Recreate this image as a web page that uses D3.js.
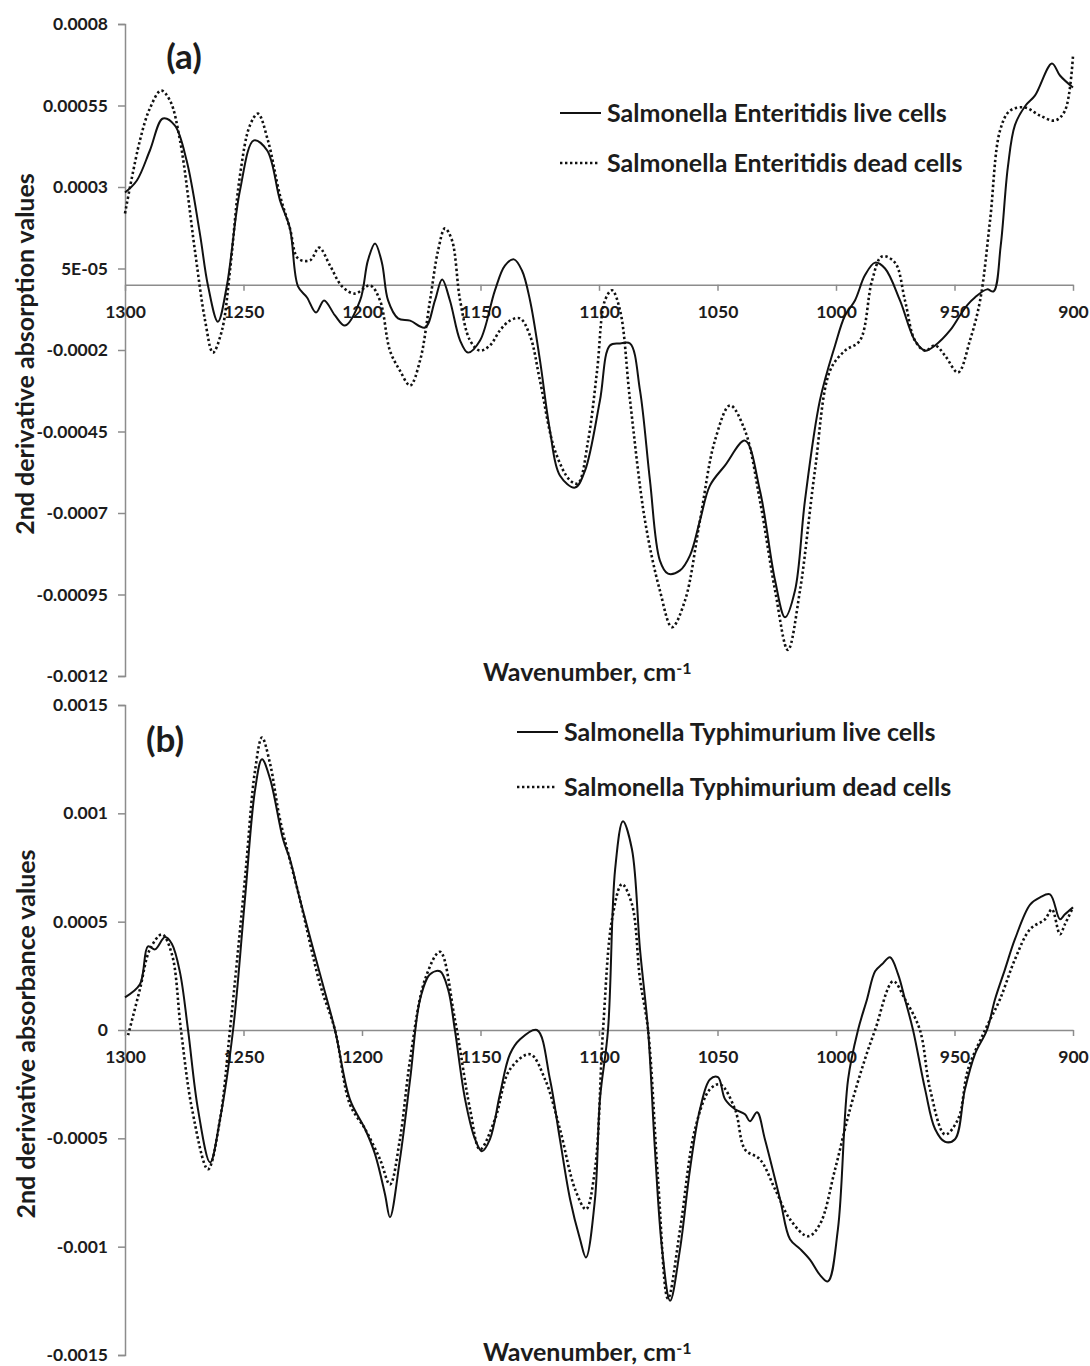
<!DOCTYPE html>
<html>
<head>
<meta charset="utf-8">
<script src="https://cdn.jsdelivr.net/npm/d3@7"></script>
<style>
  body { margin: 0; background: #fff; }
  svg text { font-family: Lato, "Open Sans", sans-serif; font-weight: bold; fill: #1c1c1c; }
</style>
</head>
<body>
<svg id="chart" width="1090" height="1366"></svg>
<script>
// wavenumber axis (shared)
const wavenumberTicks = [1300, 1250, 1200, 1150, 1100, 1050, 1000, 950, 900];

// panel (a) y ticks
const enteritidisTicks = [0.0008, 0.00055, 0.0003, 0.00005, -0.0002, -0.00045, -0.0007, -0.00095, -0.0012];
const enteritidisTickLabels = ["0.0008", "0.00055", "0.0003", "5E-05", "-0.0002", "-0.00045", "-0.0007", "-0.00095", "-0.0012"];

// panel (b) y ticks
const typhimuriumTicks = [0.0015, 0.001, 0.0005, 0, -0.0005, -0.001, -0.0015];
const typhimuriumTickLabels = ["0.0015", "0.001", "0.0005", "0", "-0.0005", "-0.001", "-0.0015"];

// [wavenumber, 2nd derivative value]
const enteritidisLive = [
  [1300, 2.83e-4], [1295, 3.20e-4], [1289.5, 4.12e-4], [1284, 5.10e-4], [1279, 4.89e-4], [1274, 3.81e-4],
  [1268.4, 1.57e-4], [1265, -0.02e-4], [1260.8, -1.13e-4], [1257, -0.02e-4], [1251.5, 2.89e-4], [1245.6, 4.43e-4],
  [1240, 4.12e-4], [1234.6, 2.59e-4], [1230.4, 1.73e-4], [1227, -0.05e-4], [1223.2, -0.39e-4], [1219.4, -0.85e-4],
  [1216, -0.48e-4], [1211.4, -0.94e-4], [1207.2, -1.25e-4], [1200.8, -0.48e-4], [1197.5, 0.75e-4], [1194.5, 1.27e-4],
  [1191.6, 0.68e-4], [1189, -0.48e-4], [1184.8, -1.03e-4], [1179.7, -1.10e-4], [1173.4, -1.31e-4], [1169.2, -0.48e-4],
  [1166.2, 0.16e-4], [1162.9, -0.48e-4], [1158.6, -1.71e-4], [1155.3, -2.08e-4], [1150.2, -1.71e-4], [1143.9, -0.17e-4],
  [1139.7, 0.59e-4], [1135.9, 0.78e-4], [1132.5, 0.44e-4], [1129.1, -0.48e-4], [1124.9, -2.32e-4], [1120.7, -4.47e-4],
  [1116.5, -5.85e-4], [1110.1, -6.22e-4], [1105.9, -5.70e-4], [1099.6, -3.55e-4], [1095.4, -1.86e-4], [1091.1, -1.80e-4],
  [1086.9, -1.80e-4], [1082.7, -3.24e-4], [1078.5, -6.00e-4], [1074.3, -8.46e-4], [1070.9, -8.86e-4], [1065.8, -8.76e-4],
  [1061.6, -8.30e-4], [1057.4, -7.23e-4], [1053.2, -6.16e-4], [1046.8, -5.54e-4], [1038.4, -4.78e-4], [1032.1, -6.31e-4],
  [1025.7, -9.07e-4], [1021.5, -10.2e-4], [1017.3, -9.38e-4], [1013.1, -6.62e-4], [1006.8, -3.55e-4], [1000.4, -1.86e-4],
  [996.2, -0.94e-4], [992, -0.48e-4], [987.8, 0.29e-4], [983.5, 0.68e-4], [979.3, 0.50e-4], [973, -0.48e-4],
  [966.7, -1.71e-4], [962.4, -2.02e-4], [958.2, -1.86e-4], [951.9, -1.40e-4], [947.7, -0.94e-4], [944.7, -0.63e-4],
  [941.4, -0.39e-4], [936.3, -0.14e-4], [933.5, -0.2e-4], [930.5, 1.2e-4], [927.5, 3.6e-4], [924.5, 4.9e-4],
  [920, 5.5e-4], [916, 5.81e-4], [908.9, 6.79e-4], [905.5, 6.42e-4], [900, 6.05e-4]
];

const enteritidisDead = [
  [1300, 2.19e-4], [1293.7, 4.43e-4], [1289.5, 5.41e-4], [1284.8, 5.96e-4], [1281, 5.65e-4], [1276.8, 4.43e-4],
  [1270.5, 1.05e-4], [1266.2, -1.10e-4], [1262.9, -2.08e-4], [1259.1, -1.40e-4], [1255.7, 0.44e-4], [1251.5, 3.35e-4],
  [1247.3, 4.89e-4], [1243.9, 5.25e-4], [1239.7, 4.43e-4], [1234.6, 2.74e-4], [1230.4, 1.73e-4], [1227, 0.81e-4],
  [1221.9, 0.75e-4], [1218.1, 1.14e-4], [1213.5, 0.59e-4], [1208.4, -0.05e-4], [1203, -0.27e-4], [1196.6, -0.02e-4],
  [1192.4, -0.48e-4], [1188.2, -2.02e-4], [1184, -2.63e-4], [1179.7, -3.09e-4], [1175.5, -2.32e-4], [1171.3, -0.48e-4],
  [1167.9, 1.05e-4], [1165, 1.73e-4], [1162, 1.36e-4], [1158.6, -0.48e-4], [1154.4, -1.71e-4], [1150.2, -2.02e-4],
  [1146, -1.86e-4], [1141.8, -1.40e-4], [1137.6, -1.10e-4], [1133.3, -1.03e-4], [1129.1, -1.56e-4], [1124.9, -2.94e-4],
  [1118.6, -5.08e-4], [1112.2, -6.00e-4], [1108.9, -6.09e-4], [1104.6, -4.78e-4], [1100.8, -2.63e-4], [1097.5, -0.48e-4],
  [1094.5, -0.17e-4], [1091.1, -0.79e-4], [1086.9, -3.55e-4], [1080.6, -7.23e-4], [1074.3, -9.38e-4], [1069.2, -10.5e-4],
  [1063.7, -9.68e-4], [1057.4, -7.23e-4], [1051.1, -4.78e-4], [1044.7, -3.70e-4], [1038.4, -4.47e-4], [1032.1, -6.62e-4],
  [1025.7, -9.38e-4], [1020.3, -11.2e-4], [1015.2, -9.38e-4], [1008.9, -5.70e-4], [1002.5, -2.63e-4], [996.2, -2.02e-4],
  [989.9, -1.71e-4], [984.8, 0.13e-4], [980.6, 0.87e-4], [975.1, 0.68e-4], [970.9, -0.48e-4], [966.7, -1.71e-4],
  [962.4, -2.02e-4], [958.2, -1.86e-4], [954, -2.17e-4], [948.5, -2.69e-4], [943.5, -1.71e-4], [939.2, -0.48e-4],
  [935, 1.97e-4], [930.8, 4.73e-4], [926.6, 5.34e-4], [920.3, 5.44e-4], [913.9, 5.19e-4], [907.6, 5.04e-4],
  [903.4, 5.34e-4], [900, 7.03e-4]
];

const typhimuriumLive = [
  [1300, 1.51e-4], [1293.7, 2.11e-4], [1290.3, 3.86e-4], [1287.3, 3.72e-4], [1283.1, 4.29e-4], [1280.2, 3.97e-4],
  [1276.8, 2.66e-4], [1273.4, 0], [1269.2, -3.66e-4], [1264.1, -6.11e-4], [1259.9, -4.12e-4], [1254.4, 0],
  [1249.4, 6.03e-4], [1245.1, 11.1e-4], [1242.2, 12.5e-4], [1238.8, 11.6e-4], [1233.3, 8.80e-4], [1230.4, 7.88e-4],
  [1226.2, 6.03e-4], [1217.7, 2.57e-4], [1211.4, 0], [1205.1, -3.20e-4], [1198.7, -4.57e-4], [1194.5, -5.73e-4],
  [1190.3, -7.58e-4], [1188.2, -8.64e-4], [1184, -5.97e-4], [1179.7, -2.28e-4], [1175.5, 1.41e-4], [1171.3, 2.57e-4],
  [1167.1, 2.71e-4], [1163.7, 1.88e-4], [1160.8, 0], [1156.5, -3.20e-4], [1152.3, -5.04e-4], [1149.4, -5.60e-4],
  [1146, -5.04e-4], [1141.8, -2.97e-4], [1137.6, -1.12e-4], [1133.3, -0.43e-4], [1126.2, 0], [1120.7, -2.27e-4],
  [1116.5, -5.04e-4], [1112.2, -7.81e-4], [1108, -9.66e-4], [1105.5, -10.5e-4], [1101.7, -7.81e-4], [1099.6, -3.20e-4],
  [1096.2, 0], [1093.2, 7.41e-4], [1089.9, 9.63e-4], [1086.1, 8.34e-4], [1082.7, 3.72e-4], [1079.3, 0],
  [1076.4, -5.51e-4], [1073.4, -10.1e-4], [1070, -12.5e-4], [1065.8, -10.1e-4], [1061.6, -6.43e-4], [1057.4, -3.66e-4],
  [1053.2, -2.28e-4], [1049.8, -2.18e-4], [1046.8, -3.20e-4], [1042.6, -3.66e-4], [1038.4, -3.89e-4], [1036.3, -4.21e-4],
  [1033.3, -3.80e-4], [1030, -5.04e-4], [1023.6, -7.81e-4], [1019.4, -9.66e-4], [1015.2, -10.1e-4], [1011, -10.6e-4],
  [1006.8, -11.3e-4], [1003.4, -11.6e-4], [999.2, -9.20e-4], [994.9, -2.28e-4], [990.7, 0], [986.9, 1.42e-4],
  [983.5, 2.71e-4], [980.6, 3.03e-4], [977.2, 3.36e-4], [973.8, 2.57e-4], [970.9, 1.42e-4], [967.5, 0],
  [962.4, -2.74e-4], [958.2, -4.57e-4], [954, -5.16e-4], [949.8, -5.04e-4], [945.6, -2.74e-4], [941.4, -1.12e-4],
  [936.3, 0], [932.9, 1.42e-4], [928.7, 2.80e-4], [924.5, 4.19e-4], [918.1, 5.79e-4], [913.9, 6.12e-4],
  [909.7, 6.26e-4], [905.5, 5.11e-4], [903.4, 5.34e-4], [900, 5.66e-4]
];

const typhimuriumDead = [
  [1298.7, -0.24e-4], [1293.7, 1.88e-4], [1289.5, 3.72e-4], [1284.4, 4.41e-4], [1280.2, 3.49e-4], [1276.4, 0],
  [1271.7, -3.66e-4], [1265, -6.43e-4], [1259.9, -4.12e-4], [1255.7, 0], [1249.4, 6.96e-4], [1245.1, 12.0e-4],
  [1242.2, 13.5e-4], [1238.8, 12.3e-4], [1234.6, 9.72e-4], [1226.2, 6.03e-4], [1217.7, 2.11e-4], [1211.4, 0],
  [1205.1, -3.43e-4], [1198.7, -4.57e-4], [1192.4, -5.97e-4], [1188.2, -7.13e-4], [1184, -5.04e-4], [1179.7, -1.37e-4],
  [1173.4, 2.34e-4], [1167.1, 3.61e-4], [1160.8, 0.49e-4], [1154.4, -3.66e-4], [1150.2, -5.51e-4], [1143.9, -4.12e-4],
  [1137.6, -1.82e-4], [1129.1, -1.12e-4], [1122.8, -2.27e-4], [1116.5, -4.57e-4], [1110.1, -7.35e-4], [1105.5, -8.27e-4],
  [1101.7, -6.43e-4], [1098.3, 0], [1094.5, 5.11e-4], [1090.3, 6.73e-4], [1086.1, 5.81e-4], [1082.7, 2.34e-4],
  [1079.3, 0], [1075.1, -6.90e-4], [1070.9, -12.4e-4], [1065.8, -9.21e-4], [1059.5, -4.58e-4], [1053.2, -2.74e-4],
  [1048.9, -2.51e-4], [1042.6, -3.66e-4], [1038.4, -5.51e-4], [1032.1, -5.97e-4], [1025.7, -7.35e-4], [1019.4, -8.74e-4],
  [1011.8, -9.52e-4], [1006.8, -8.97e-4], [1000.4, -6.43e-4], [994.1, -3.66e-4], [987.8, -1.35e-4], [983.5, 0],
  [975.9, 2.25e-4], [970.9, 1.42e-4], [964.6, 0], [960.3, -2.74e-4], [954, -4.82e-4], [948.5, -4.12e-4],
  [944.3, -1.82e-4], [937.1, 0], [930.8, 1.42e-4], [924.5, 3.26e-4], [918.1, 4.65e-4], [911.8, 5.11e-4],
  [908.9, 5.57e-4], [905.5, 4.42e-4], [903.4, 4.88e-4], [900, 5.66e-4]
];

const panels = [
  {
    tag: "(a)", tagX: 184, tagY: 57,
    top: 24, bottom: 676, yDomain: [0.0008, -0.0012],
    ticks: enteritidisTicks, tickLabels: enteritidisTickLabels,
    yTitle: "2nd derivative absorption values", yTitleX: 25,
    xTitleY: 672,
    legendX: 560, legendY: 113, legendGap: 50,
    names: ["Salmonella Enteritidis live cells", "Salmonella Enteritidis dead cells"],
    live: enteritidisLive, dead: enteritidisDead
  },
  {
    tag: "(b)", tagX: 165, tagY: 740,
    top: 705, bottom: 1355, yDomain: [0.0015, -0.0015],
    ticks: typhimuriumTicks, tickLabels: typhimuriumTickLabels,
    yTitle: "2nd derivative absorbance values", yTitleX: 26,
    xTitleY: 1352,
    legendX: 517, legendY: 732, legendGap: 55,
    names: ["Salmonella Typhimurium live cells", "Salmonella Typhimurium dead cells"],
    live: typhimuriumLive, dead: typhimuriumDead
  }
];

const svg = d3.select("#chart");
const axisColor = "#8c8c8c";

const x = d3.scaleLinear().domain([1300, 900]).range([125, 1073]);

panels.forEach((p) => {
  const g = svg.append("g");
  const y = d3.scaleLinear().domain(p.yDomain).range([p.top, p.bottom]);

  // vertical axis
  const yAxis = g.append("g")
    .attr("transform", "translate(125,0)")
    .call(d3.axisLeft(y).tickValues(p.ticks).tickSize(7).tickPadding(10)
      .tickFormat((d, i) => p.tickLabels[i]));
  yAxis.select(".domain").attr("stroke", axisColor).attr("stroke-width", 1.5);
  yAxis.selectAll(".tick line").attr("stroke", axisColor).attr("stroke-width", 1.5);
  yAxis.selectAll("text").style("font-size", "17.5px").attr("fill", "#1c1c1c");

  // horizontal axis at zero
  const xAxis = g.append("g")
    .attr("transform", `translate(0,${y(0)})`)
    .call(d3.axisBottom(x).tickValues(wavenumberTicks).tickSize(6).tickSizeOuter(0).tickPadding(15)
      .tickFormat(d3.format("d")));
  xAxis.select(".domain").attr("stroke", axisColor).attr("stroke-width", 1.5);
  xAxis.selectAll(".tick line").attr("stroke", axisColor).attr("stroke-width", 1.5);
  xAxis.selectAll("text").style("font-size", "17.5px").attr("fill", "#1c1c1c");

  // curves
  const line = d3.line()
    .x((d) => x(d[0]))
    .y((d) => y(d[1]))
    .curve(d3.curveCatmullRom.alpha(0.5));

  g.append("path")
    .datum(p.dead)
    .attr("d", line)
    .attr("fill", "none")
    .attr("stroke", "#111")
    .attr("stroke-width", 2.6)
    .attr("stroke-dasharray", "2.4,2.6");

  g.append("path")
    .datum(p.live)
    .attr("d", line)
    .attr("fill", "none")
    .attr("stroke", "#111")
    .attr("stroke-width", 2);

  // panel tag
  g.append("text")
    .attr("x", p.tagX).attr("y", p.tagY)
    .attr("text-anchor", "middle").attr("dy", "0.35em")
    .style("font-size", "35px")
    .text(p.tag);

  // y title
  g.append("text")
    .attr("transform", `translate(${p.yTitleX},${(p.top + p.bottom) / 2 + 4}) rotate(-90)`)
    .attr("text-anchor", "middle").attr("dy", "0.35em")
    .style("font-size", "25px")
    .text(p.yTitle);

  // x title
  const xt = g.append("text")
    .attr("x", 483).attr("y", p.xTitleY)
    .attr("dy", "0.35em")
    .style("font-size", "25px");
  xt.append("tspan").text("Wavenumber, cm");
  xt.append("tspan").attr("dy", "-0.45em").style("font-size", "16px").text("-1");

  // legend
  const leg = g.append("g").attr("transform", `translate(${p.legendX},${p.legendY})`);
  leg.append("line").attr("x1", 0).attr("x2", 41).attr("y1", 0).attr("y2", 0)
    .attr("stroke", "#111").attr("stroke-width", 2);
  leg.append("line").attr("x1", 0).attr("x2", 38).attr("y1", p.legendGap).attr("y2", p.legendGap)
    .attr("stroke", "#111").attr("stroke-width", 2.6).attr("stroke-dasharray", "2.4,2.6");
  leg.selectAll("text.name")
    .data(p.names)
    .join("text")
    .attr("class", "name")
    .attr("x", 47)
    .attr("y", (d, i) => i * p.legendGap)
    .attr("dy", "0.35em")
    .style("font-size", "25px")
    .text((d) => d);
});
</script>
</body>
</html>
